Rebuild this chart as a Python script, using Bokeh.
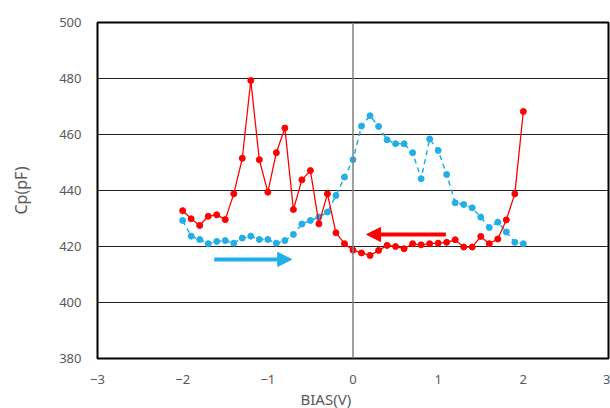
from bokeh.plotting import figure
from bokeh.models import Range1d, FixedTicker, Span, Arrow, NormalHead, Title
from bokeh.embed import file_html
from bokeh.resources import INLINE

# ---- data ----
bias = [round(-2.0 + 0.1 * i, 1) for i in range(41)]

cp_red = [432.8, 429.9, 427.5, 430.8, 431.3, 429.6, 438.8, 451.5, 479.3, 451.0,
          439.4, 453.5, 462.3, 433.2, 443.8, 447.1, 428.1, 438.8, 424.9, 421.0,
          418.7, 417.7, 416.8, 418.6, 420.4, 420.0, 419.2, 421.0, 420.6, 421.0,
          421.2, 421.5, 422.4, 419.8, 419.8, 423.6, 421.0, 422.7, 429.5, 438.8,
          468.2]

cp_blue = [429.3, 423.7, 422.5, 421.0, 421.8, 422.1, 421.2, 423.0, 423.7, 422.5,
           422.5, 421.2, 422.1, 424.3, 428.0, 429.3, 430.5, 432.3, 438.2, 444.8,
           451.0, 463.0, 466.7, 462.9, 458.1, 456.7, 456.7, 453.5, 444.2, 458.4,
           454.3, 445.7, 435.6, 435.0, 433.8, 430.5, 426.8, 428.7, 425.2, 421.5,
           421.0]

x_ticks = [-3, -2, -1, 0, 1, 2, 3]
y_ticks = [380, 400, 420, 440, 460, 480, 500]

blue_arrow = dict(x_start=-1.63, x_end=-0.72, y=415.4)
red_arrow = dict(x_start=1.09, x_end=0.16, y=424.3)
x_cross = 0

RED = "#FF0000"
BLUE = "#22AEE8"
GREY = "#595959"
FONT = "Noto Sans"

p = figure(width=610, height=408, output_backend="svg", toolbar_location=None,
           x_range=Range1d(-3, 3), y_range=Range1d(380, 500),
           min_border_left=97, min_border_right=2, min_border_top=22,
           min_border_bottom=0)

p.outline_line_color = "black"
p.outline_line_width = 2

p.xgrid.visible = False
p.ygrid.grid_line_color = "#222222"
p.ygrid.grid_line_width = 1

for ax in (p.xaxis[0], p.yaxis[0]):
    ax.axis_line_color = None
    ax.major_tick_line_color = None
    ax.minor_tick_line_color = None
    ax.major_label_text_color = GREY
    ax.major_label_text_font = FONT
    ax.major_label_text_font_size = "13px"

p.xaxis[0].ticker = FixedTicker(ticks=x_ticks)
p.yaxis[0].ticker = FixedTicker(ticks=y_ticks)
p.xaxis[0].major_label_standoff = 10
p.yaxis[0].major_label_standoff = 10

p.yaxis[0].axis_label = "Cp(pF)"
p.yaxis[0].axis_label_text_color = GREY
p.yaxis[0].axis_label_text_font = FONT
p.yaxis[0].axis_label_text_font_size = "16px"
p.yaxis[0].axis_label_text_font_style = "normal"
p.yaxis[0].axis_label_standoff = 24

p.add_layout(Title(text="BIAS(V)", align="left", offset=203,
                   text_color=GREY, text_font=FONT, text_font_size="15px",
                   text_font_style="normal", standoff=0), "below")

p.add_layout(Span(location=x_cross, dimension="height", line_color="#7f7f7f",
                  line_width=1.5))

p.line(bias, cp_blue, line_color=BLUE, line_width=1.5, line_dash="5 4")
p.scatter(bias, cp_blue, size=6, fill_color=BLUE, line_color=BLUE)

p.line(bias, cp_red, line_color=RED, line_width=1.3)
p.scatter(bias, cp_red, size=6, fill_color=RED, line_color=RED)

p.add_layout(Arrow(end=NormalHead(size=14, fill_color=BLUE, line_color=BLUE),
                   x_start=blue_arrow["x_start"], x_end=blue_arrow["x_end"],
                   y_start=blue_arrow["y"], y_end=blue_arrow["y"],
                   line_color=BLUE, line_width=4))
p.add_layout(Arrow(end=NormalHead(size=14, fill_color=RED, line_color=RED),
                   x_start=red_arrow["x_start"], x_end=red_arrow["x_end"],
                   y_start=red_arrow["y"], y_end=red_arrow["y"],
                   line_color=RED, line_width=4))

open("out.html", "w").write(file_html(p, INLINE))
